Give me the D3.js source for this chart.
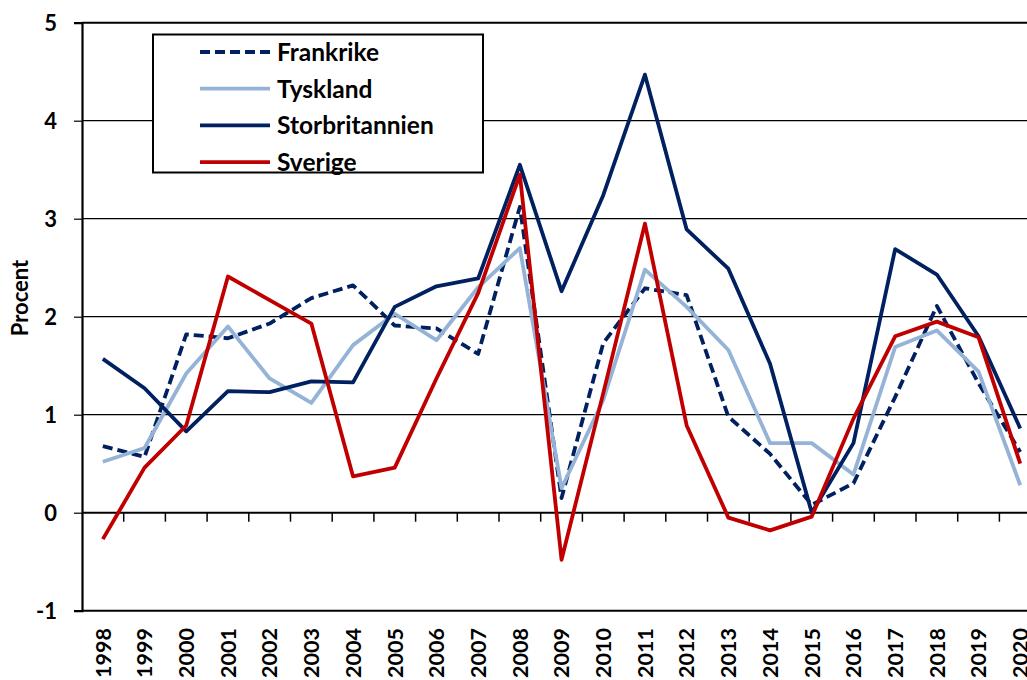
<!DOCTYPE html>
<html>
<head>
<meta charset="utf-8">
<script src="https://cdn.jsdelivr.net/npm/d3@7"></script>
<style>
  body { margin: 0; background: #fff; }
  svg { display: block; font-family: Lato, "Open Sans", sans-serif; font-weight: bold; }
</style>
</head>
<body>
<svg width="1027" height="680"></svg>
<script>
const years = ["1998","1999","2000","2001","2002","2003","2004","2005","2006","2007","2008",
  "2009","2010","2011","2012","2013","2014","2015","2016","2017","2018","2019","2020"];
const frankrike = [0.68,0.57,1.82,1.78,1.93,2.19,2.32,1.91,1.88,1.62,3.12,
  0.15,1.73,2.29,2.22,0.98,0.60,0.08,0.30,1.18,2.11,1.32,0.62];
const tyskland = [0.52,0.66,1.42,1.90,1.37,1.12,1.71,2.03,1.76,2.30,2.70,
  0.25,1.15,2.48,2.10,1.66,0.71,0.71,0.39,1.69,1.86,1.44,0.28];
const storbritannien = [1.57,1.27,0.83,1.24,1.23,1.34,1.33,2.10,2.31,2.39,3.55,
  2.26,3.24,4.47,2.89,2.49,1.52,0.00,0.71,2.69,2.43,1.80,0.86];
const sverige = [-0.27,0.46,0.89,2.41,2.17,1.93,0.37,0.46,1.37,2.24,3.45,
  -0.48,1.22,2.95,0.89,-0.05,-0.18,-0.04,0.96,1.80,1.95,1.79,0.50];
const yTicks = [-1,0,1,2,3,4,5];

const series = [
  { name: "Frankrike", values: frankrike, color: "#002060", dash: "10,5" },
  { name: "Tyskland", values: tyskland, color: "#95b3d7", dash: null },
  { name: "Storbritannien", values: storbritannien, color: "#002060", dash: null },
  { name: "Sverige", values: sverige, color: "#c00000", dash: null }
];

const svg = d3.select("svg");
const plotLeft = 82, plotTop = 22.7, plotBottom = 610.7, band = 41.7;

const x = d3.scaleBand().domain(years).range([plotLeft, plotLeft + band * years.length]);
const y = d3.scaleLinear().domain([-1, 5]).range([plotBottom, plotTop]);

// gridlines
svg.append("g")
  .selectAll("line")
  .data(yTicks.filter(d => d > 0))
  .enter()
  .append("line")
  .attr("x1", plotLeft).attr("x2", 1027)
  .attr("y1", d => y(d)).attr("y2", d => y(d))
  .attr("stroke", "#000")
  .attr("stroke-width", d => d === 5 ? 2 : 1.2);

// bottom border
svg.append("line")
  .attr("x1", plotLeft).attr("x2", 1027)
  .attr("y1", y(-1)).attr("y2", y(-1))
  .attr("stroke", "#000").attr("stroke-width", 2);

// y axis
const yAxis = svg.append("g")
  .attr("transform", `translate(${plotLeft},0)`)
  .call(d3.axisLeft(y).tickValues(yTicks).tickSize(8).tickPadding(17).tickFormat(d => String(d)));
yAxis.select(".domain").attr("stroke-width", 2.2);
yAxis.selectAll(".tick line").attr("stroke-width", 1.2);
yAxis.selectAll(".tick text")
  .attr("font-size", 22).attr("font-family", "Lato, sans-serif").attr("font-weight", "bold")
  .attr("fill", "#000").attr("dy", "0.36em");

// x axis at zero
const xAxis = svg.append("g")
  .attr("transform", `translate(0,${y(0)})`)
  .call(d3.axisBottom(x).tickSize(0).tickFormat(""));
xAxis.select(".domain").attr("stroke-width", 2).attr("d", `M${plotLeft},0H1027`);
xAxis.selectAll(".tick").remove();
xAxis.selectAll(".sep")
  .data(years.slice(1))
  .enter()
  .append("line")
  .attr("x1", d => x(d)).attr("x2", d => x(d))
  .attr("y1", 0).attr("y2", 9)
  .attr("stroke", "#000").attr("stroke-width", 1.5);

// year labels
svg.append("g")
  .selectAll("text")
  .data(years)
  .enter()
  .append("text")
  .attr("transform", d => `translate(${x(d) + x.bandwidth() / 2},628) rotate(-90)`)
  .attr("text-anchor", "end")
  .attr("dy", "0.36em")
  .attr("font-size", 21.5)
  .text(d => d);

// y label
svg.append("text")
  .attr("transform", "translate(20,298) rotate(-90)")
  .attr("text-anchor", "middle")
  .attr("dy", "0.36em")
  .attr("font-size", 22)
  .text("Procent");

// lines
const line = d3.line()
  .x((d, i) => x(years[i]) + x.bandwidth() / 2)
  .y(d => y(d));

svg.append("g")
  .selectAll("path")
  .data(series)
  .enter()
  .append("path")
  .attr("d", d => line(d.values))
  .attr("fill", "none")
  .attr("stroke", d => d.color)
  .attr("stroke-width", 3.8)
  .attr("stroke-linejoin", "round")
  .attr("stroke-dasharray", d => d.dash);

// legend
const legend = svg.append("g");
legend.append("rect")
  .attr("x", 153).attr("y", 34.5)
  .attr("width", 330).attr("height", 138)
  .attr("fill", "#fff").attr("stroke", "#000").attr("stroke-width", 2);

const rows = legend.selectAll(".row")
  .data(series)
  .enter()
  .append("g")
  .attr("transform", (d, i) => `translate(0,${52 + i * 36.7})`);
rows.append("line")
  .attr("x1", 200).attr("x2", 270)
  .attr("stroke", d => d.color)
  .attr("stroke-width", 3.8)
  .attr("stroke-dasharray", d => d.dash);
rows.append("text")
  .attr("x", 277).attr("dy", "0.36em")
  .attr("font-size", 24.5)
  .text(d => d.name);
</script>
</body>
</html>
